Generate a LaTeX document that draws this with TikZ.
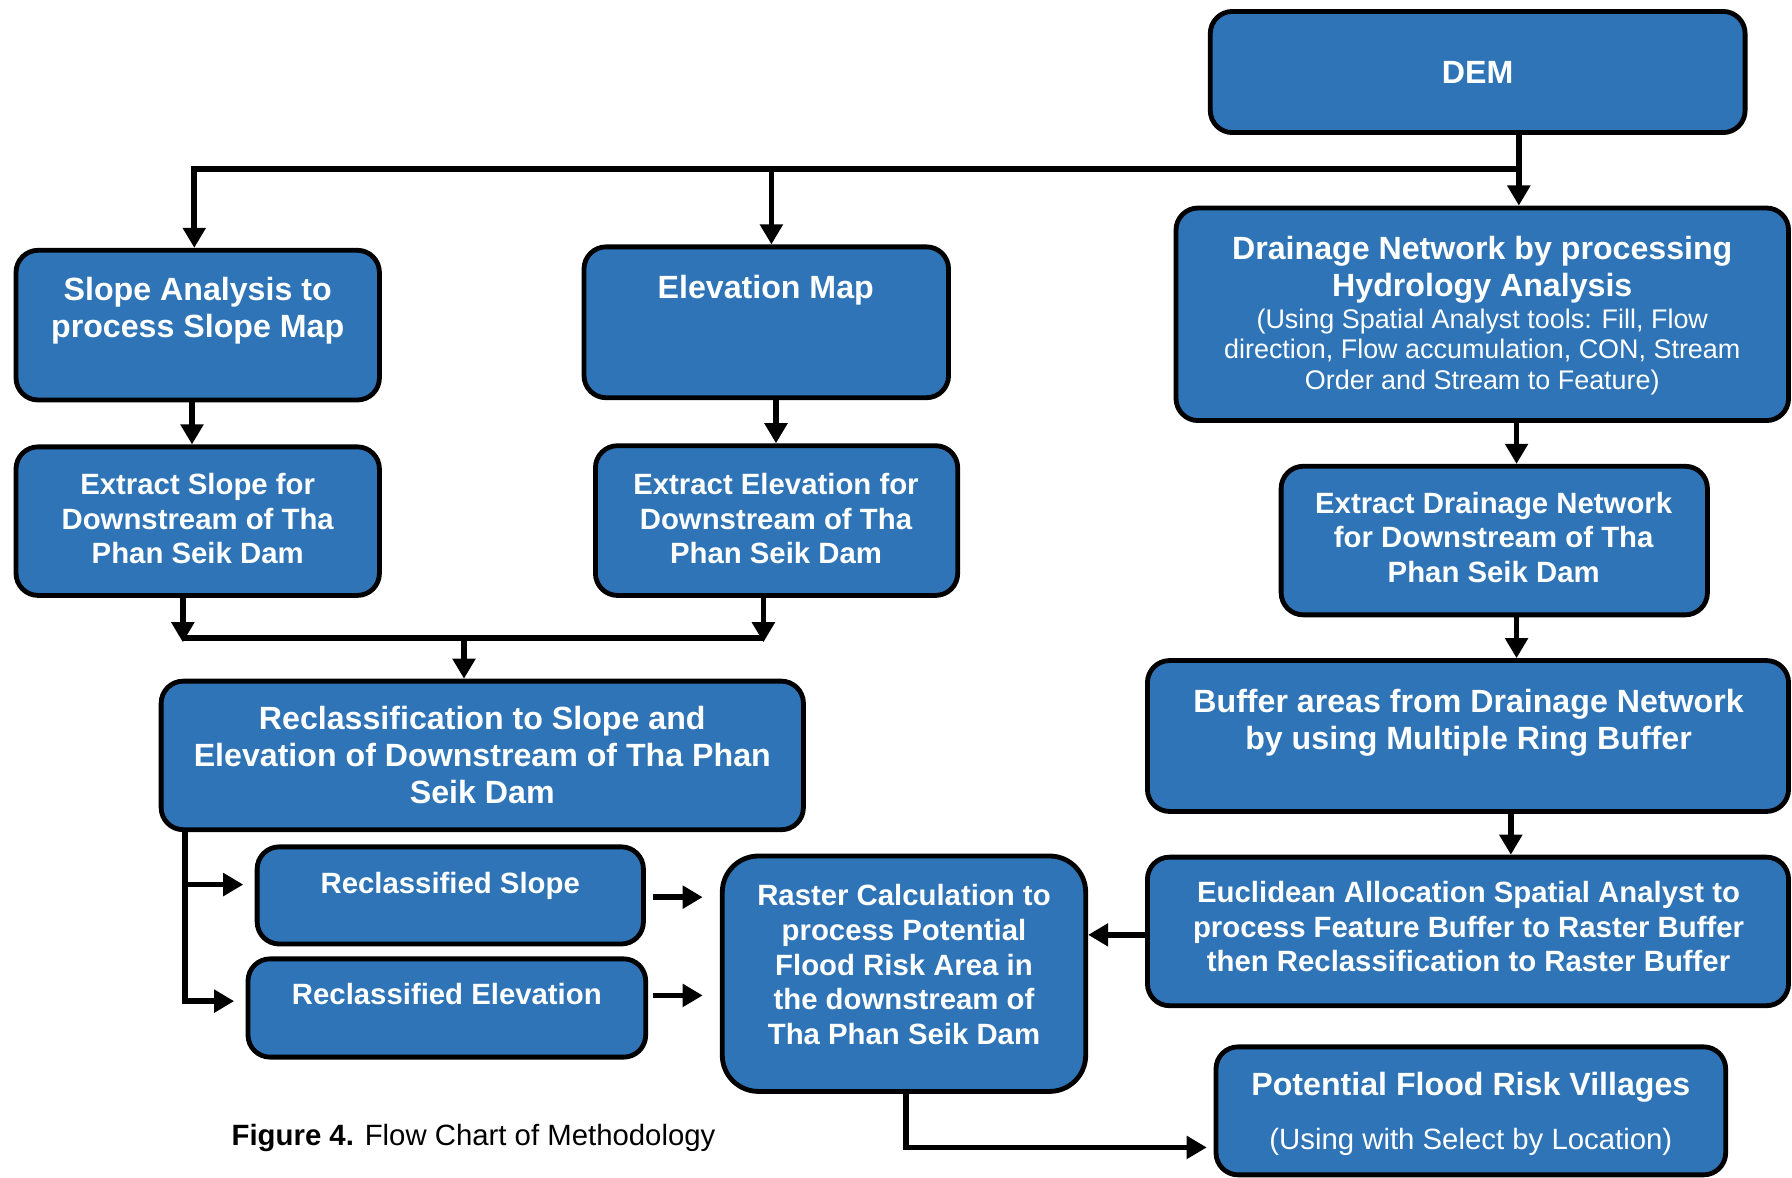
\documentclass[tikz,border=0pt]{standalone}
\usepackage{fontspec}
\setmainfont{Liberation Sans}
\usetikzlibrary{arrows.meta,fit,calc}
\definecolor{boxblue}{RGB}{46,116,182}
\tikzset{
 box/.style={draw=black, line width=1.2pt, fill=boxblue, rounded corners=5.5pt, inner sep=0pt},
 tb/.style={text=white, align=center, font=\bfseries\fontsize{8}{9.2}\selectfont, inner sep=0pt},
 ts/.style={text=white, align=center, font=\bfseries\fontsize{7.3}{8.6}\selectfont, inner sep=0pt},
 tr/.style={text=white, align=center, font=\fontsize{6.7}{7.7}\selectfont, inner sep=0pt},
 conn/.style={line width=1.4pt, draw=black},
 arr/.style={conn, -{Triangle[length=5pt,width=5.5pt]}},
}
\begin{document}
\begin{tikzpicture}[x=0.01cm,y=-0.01cm]
\useasboundingbox (0,0) rectangle (1568,1030);
\clip (0,0) rectangle (1568,1030);
% boxes
\node[box, fit={(1059,10)(1527,116)}] (dem) {};
\node[box, fit={(14,219)(332,350)}] (slope) {};
\node[box, fit={(511,216)(830,348)}] (elev) {};
\node[box, fit={(1029,182)(1565,368)}] (drain) {};
\node[box, fit={(14,391)(332,521)}] (exslope) {};
\node[box, fit={(521,390)(838,521)}] (exelev) {};
\node[box, fit={(1121,408)(1494,538)}] (exdrain) {};
\node[box, fit={(141,596)(703,726)}] (reclass) {};
\node[box, fit={(1004,578)(1565,710)}] (buffer) {};
\node[box, fit={(1004,750)(1565,880)}] (euclid) {};
\node[box, fit={(632,749)(950,955)}, rounded corners=9pt] (raster) {};
\node[box, fit={(225,741)(563,826)}] (rslope) {};
\node[box, fit={(217,839)(565,925)}] (relev) {};
\node[box, fit={(1064,916)(1510,1028)}] (pot) {};
% texts
\node[tb] (tdem) at (1293,63) {DEM};
\node[tb] (tslope) at (173,272) {Slope Analysis to\\process Slope Map};
\node[tb] (telev) at (670,254) {Elevation Map};
\node[tb] (tdrain) at (1297,236) {Drainage Network by processing\\Hydrology Analysis};
\node[tr] (tdrain2) at (1297,308) {(Using Spatial Analyst tools: Fill, Flow\\direction, Flow accumulation, CON, Stream\\Order and Stream to Feature)};
\node[ts] (texslope) at (173,454) {Extract Slope for\\Downstream of Tha\\Phan Seik Dam};
\node[ts] (texelev) at (679,454) {Extract Elevation for\\Downstream of Tha\\Phan Seik Dam};
\node[ts] (texdrain) at (1307,470) {Extract Drainage Network\\for Downstream of Tha\\Phan Seik Dam};
\node[tb] (treclass) at (422,661) {Reclassification to Slope and\\Elevation of Downstream of Tha Phan\\Seik Dam};
\node[tb] (tbuffer) at (1285,632) {Buffer areas from Drainage Network\\by using Multiple Ring Buffer};
\node[ts] (teuclid) at (1285,811) {Euclidean Allocation Spatial Analyst to\\process Feature Buffer to Raster Buffer\\then Reclassification to Raster Buffer};
\node[ts] (traster) at (791,844) {Raster Calculation to\\process Potential\\Flood Risk Area in\\the downstream of\\Tha Phan Seik Dam};
\node[ts] (trslope) at (394,775) {Reclassified Slope};
\node[ts] (trelev) at (391,870) {Reclassified Elevation};
\node[tb] (tpot) at (1287,951) {Potential Flood Risk Villages};
\node[tr, font=\fontsize{7.3}{8.6}\selectfont] (tpot2) at (1287,999) {(Using with Select by Location)};
\node[anchor=west, inner sep=0pt, font=\fontsize{7.3}{8.6}\selectfont] (cap) at (202,996) {\textbf{Figure 4.} Flow Chart of Methodology};
% connectors
\coordinate (j1) at (1329,148);
\coordinate (jL) at (170,148);
\coordinate (jM) at (675,148);
\draw[arr] (dem.south -| j1) -- (j1 |- drain.north);
\draw[arr] (j1) -- (jL) -- (jL |- slope.north);
\draw[arr] (jM) -- (jM |- elev.north);
\coordinate (xs) at (168,0);
\coordinate (xe) at (679,0);
\coordinate (xr) at (1327,0);
\coordinate (xu) at (1322,0);
\draw[arr] (xs |- slope.south) -- (xs |- exslope.north);
\draw[arr] (xe |- elev.south) -- (xe |- exelev.north);
\draw[arr] (xr |- drain.south) -- (xr |- exdrain.north);
\draw[arr] (xr |- exdrain.south) -- (xr |- buffer.north);
\draw[arr] (xu |- buffer.south) -- (xu |- euclid.north);
\coordinate (jA) at (160,558);
\coordinate (jB) at (668,558);
\coordinate (jC) at (406,558);
\coordinate (tA) at (160,562);
\coordinate (tB) at (668,562);
\draw[conn] (jA) -- (jB);
\draw[arr] (jA |- exslope.south) -- (tA);
\draw[arr] (jB |- exelev.south) -- (tB);
\draw[arr] (jC) -- (jC |- reclass.north);
\coordinate (jD) at (162,774);
\coordinate (jE) at (162,876);
\draw[arr, shorten >=0.1cm] (jD) -- (jD -| rslope.west);
\draw[arr, shorten >=0.1cm] (jE |- reclass.south) -- (jE) -- (jE -| relev.west);
\coordinate (kS) at (600,785);
\coordinate (kE) at (600,871);
\draw[arr, shorten <=0.06cm, shorten >=0.15cm] (kS -| rslope.east) -- (kS -| raster.west);
\draw[arr, shorten <=0.04cm, shorten >=0.15cm] (kE -| relev.east) -- (kE -| raster.west);
\coordinate (kU) at (980,818);
\draw[arr] (kU -| euclid.west) -- (kU -| raster.east);
\coordinate (kP) at (793,1004);
\draw[arr, shorten >=0.06cm] (kP |- raster.south) -- (kP) -- (kP -| pot.west);
\end{tikzpicture}
\end{document}
